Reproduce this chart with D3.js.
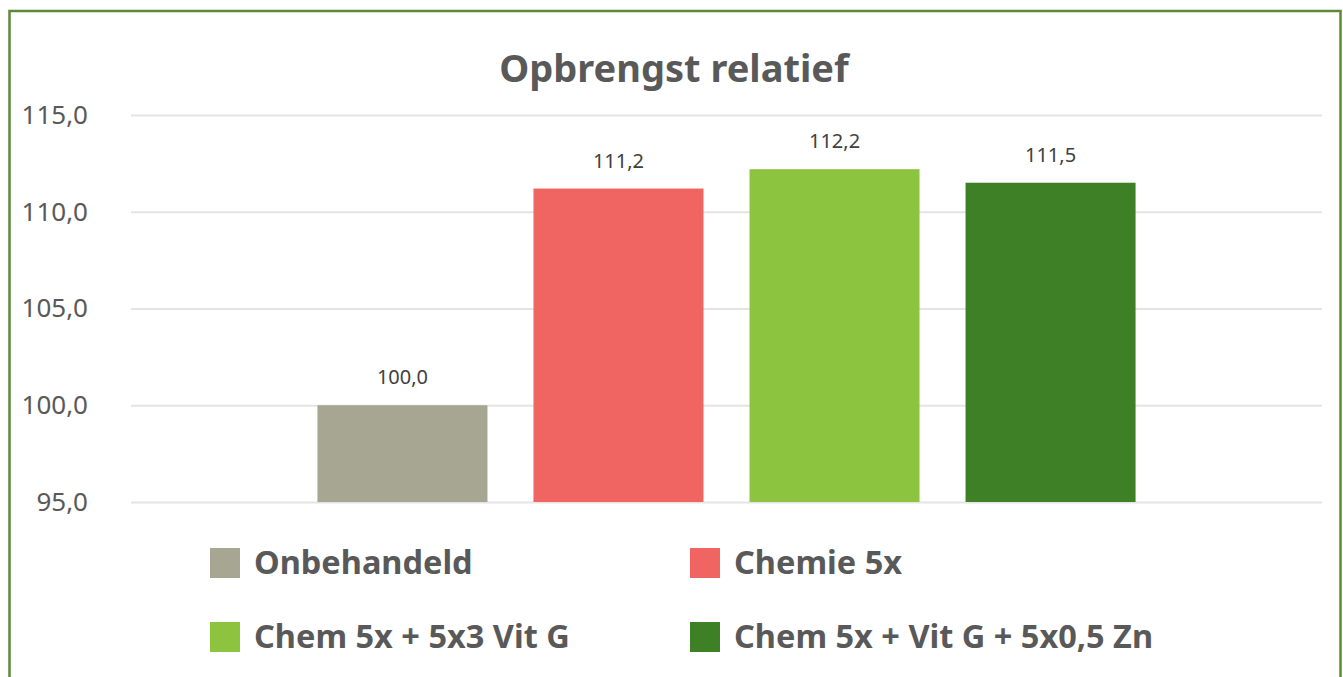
<!DOCTYPE html>
<html>
<head>
<meta charset="utf-8">
<script src="https://cdn.jsdelivr.net/npm/d3@7"></script>
<style>
  body { margin: 0; background: #fff; }
  svg { display: block; font-family: "Noto Sans", "Open Sans", sans-serif; }
</style>
</head>
<body>
<svg id="chart" width="1343" height="677"></svg>
<script>
const categories = ['Onbehandeld', 'Chemie 5x', 'Chem 5x + 5x3 Vit G', 'Chem 5x + Vit G + 5x0,5 Zn'];
const values = [100.0, 111.2, 112.2, 111.5];
const colors = ['#a6a693', '#f06461', '#8dc43f', '#3e8026'];
const yTicks = [95, 100, 105, 110, 115];

const fmt = v => d3.format('.1f')(v).replace('.', ',');

let svg = d3.select('#chart');

// outer frame
svg.append('rect')
   .attr('x', 9.5).attr('y', 11)
   .attr('width', 1331).attr('height', 680)
   .attr('fill', 'none')
   .attr('stroke', '#5b8a38')
   .attr('stroke-width', 2.5);

svg.append('text')
   .attr('x', 674).attr('y', 82)
   .attr('text-anchor', 'middle')
   .attr('font-size', 38).attr('font-weight', 'bold')
   .attr('fill', '#595959')
   .text('Opbrengst relatief');

const left = 131, right = 1322;

let x = d3.scaleBand()
    .domain(categories)
    .range([left, right])
    .paddingInner(0.213)
    .paddingOuter(0.863);

let y = d3.scaleLinear()
    .domain([95, 115])
    .range([502, 115]);

// gridlines + labels via axis
let yAxis = d3.axisLeft(y)
    .tickValues(yTicks)
    .tickFormat(fmt)
    .tickSize(-(right - left))
    .tickPadding(43);

let gy = svg.append('g')
    .attr('transform', `translate(${left},0)`)
    .call(yAxis);
gy.select('.domain').remove();
gy.selectAll('.tick line').attr('stroke', '#e4e4e4').attr('stroke-width', 2);
gy.selectAll('.tick text')
  .attr('font-size', 26)
  .attr('fill', '#595959')
  .attr('font-family', '"Noto Sans", sans-serif');

svg.selectAll('rect.bar')
   .data(categories)
   .enter()
   .append('rect')
   .attr('class', 'bar')
   .attr('x', d => x(d))
   .attr('width', x.bandwidth())
   .attr('y', (d, i) => y(values[i]))
   .attr('height', (d, i) => y(95) - y(values[i]))
   .attr('fill', (d, i) => colors[i]);

svg.selectAll('text.val')
   .data(categories)
   .enter()
   .append('text')
   .attr('class', 'val')
   .attr('x', d => x(d) + x.bandwidth() / 2)
   .attr('y', (d, i) => y(values[i]) - 21)
   .attr('text-anchor', 'middle')
   .attr('font-size', 20)
   .attr('fill', '#404040')
   .text((d, i) => fmt(values[i]));

// legend 2x2
const legX = [210, 690], legY = [563, 637];
let leg = svg.selectAll('g.leg')
   .data(categories)
   .enter()
   .append('g')
   .attr('class', 'leg')
   .attr('transform', (d, i) => `translate(${legX[i % 2]},${legY[Math.floor(i / 2)]})`);

leg.append('rect')
   .attr('x', 0).attr('y', -15)
   .attr('width', 30).attr('height', 30)
   .attr('fill', (d, i) => colors[i]);

leg.append('text')
   .attr('x', 44).attr('y', 0)
   .attr('dy', '0.35em')
   .attr('font-size', 32.5).attr('font-weight', 'bold')
   .attr('fill', '#595959')
   .text(d => d);
</script>
</body>
</html>
